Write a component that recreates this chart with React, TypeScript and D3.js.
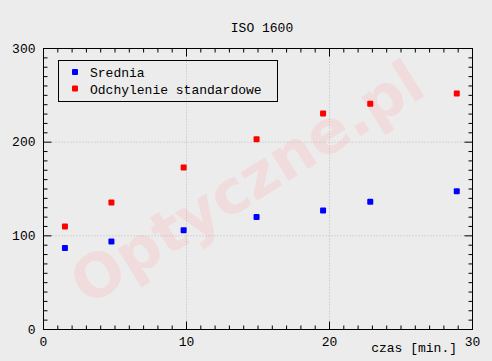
import React from "react";
import * as d3 from "d3";

const title = "ISO 1600";
const xLabel = "czas [min.]";
const watermark = "Optyczne.pl";
const seriesNames = ["Srednia", "Odchylenie standardowe"];
const seriesColors = ["#0000ff", "#ff0000"];
const times = [1.5, 4.75, 9.8, 14.9, 19.55, 22.85, 28.9];
const mean = [87, 94, 106, 120, 127, 136.5, 147.5];
const stdDev = [110, 135.5, 173, 203, 230.5, 241, 252];
const xTicks = [0, 10, 20, 30];
const yTicks = [0, 100, 200, 300];

const W = 492;
const H = 361;
const FONT = "'Liberation Mono', 'DejaVu Sans Mono', monospace";

export default function App() {
  const x = d3.scaleLinear().domain([0, 30]).range([43.5, 472.5]);
  const y = d3.scaleLinear().domain([0, 300]).range([329.5, 48.5]);
  const [x0, x1] = x.range();
  const [y0, y1] = y.range();

  const xMinor = d3.range(0, 31, 1);
  const yMinor = d3.range(0, 301, 10);
  const series = [mean, stdDev];

  return (
    <svg width={W} height={H} style={{ position: "absolute", left: 0, top: 0 }}>
      <rect x={0} y={0} width={W} height={H} fill="#ececec" />
      {/* watermark */}
      <text
        x={0}
        y={0}
        transform="translate(258,200) rotate(-32)"
        textAnchor="middle"
        fontFamily="'DejaVu Sans', sans-serif"
        fontWeight="bold"
        fontSize={60}
        fill="#f0dcdc"
      >
        {watermark}
      </text>
      {/* grid */}
      {xTicks.filter((t) => t > 0 && t < 30).map((t) => (
        <line key={"gx" + t} x1={x(t)} x2={x(t)} y1={y0} y2={y1} stroke="#bdbdbd" strokeDasharray="1,2" />
      ))}
      {yTicks.filter((t) => t > 0 && t < 300).map((t) => (
        <line key={"gy" + t} x1={x0} x2={x1} y1={y(t)} y2={y(t)} stroke="#bdbdbd" strokeDasharray="1,2" />
      ))}
      {/* ticks x */}
      {xMinor.map((t) => {
        const len = t % 10 === 0 ? 8 : 4;
        return (
          <g key={"tx" + t}>
            <line x1={x(t)} x2={x(t)} y1={y0} y2={y0 - len} stroke="#000" />
            <line x1={x(t)} x2={x(t)} y1={y1} y2={y1 + len} stroke="#000" />
          </g>
        );
      })}
      {yMinor.map((t) => {
        const len = t % 100 === 0 ? 8 : 4;
        return (
          <g key={"ty" + t}>
            <line x1={x0} x2={x0 + len} y1={y(t)} y2={y(t)} stroke="#000" />
            <line x1={x1} x2={x1 - len} y1={y(t)} y2={y(t)} stroke="#000" />
          </g>
        );
      })}
      <rect x={x0} y={y1} width={x1 - x0} height={y0 - y1} fill="none" stroke="#000" />
      {/* tick labels */}
      {xTicks.map((t) => (
        <text key={"lx" + t} x={x(t)} y={y0 + 16} textAnchor="middle" fontFamily={FONT} fontSize={13} fill="#000">
          {t}
        </text>
      ))}
      {yTicks.map((t) => (
        <text key={"ly" + t} x={x0 - 8} y={y(t) + 4} textAnchor="end" fontFamily={FONT} fontSize={13} fill="#000">
          {t}
        </text>
      ))}
      <text x={(x0 + x1) / 2 + 4} y={32} textAnchor="middle" fontFamily={FONT} fontSize={13} fill="#000">
        {title}
      </text>
      <text x={457} y={352} textAnchor="end" fontFamily={FONT} fontSize={13} fill="#000">
        {xLabel}
      </text>
      {/* points */}
      {series.map((vals, si) =>
        vals.map((v, i) => (
          <rect
            key={"p" + si + "-" + i}
            x={x(times[i]) - 3}
            y={y(v) - 3}
            width={6}
            height={6}
            rx={1}
            fill={seriesColors[si]}
          />
        ))
      )}
      {/* legend */}
      <rect x={58.5} y={60.5} width={219} height={41} fill="none" stroke="#000" />
      {seriesNames.map((n, i) => (
        <g key={"lg" + i}>
          <rect x={72} y={69 + i * 16.5} width={6} height={6} rx={1} fill={seriesColors[i]} />
          <text x={90} y={77 + i * 16.5} fontFamily={FONT} fontSize={13} fill="#000">
            {n}
          </text>
        </g>
      ))}
    </svg>
  );
}
